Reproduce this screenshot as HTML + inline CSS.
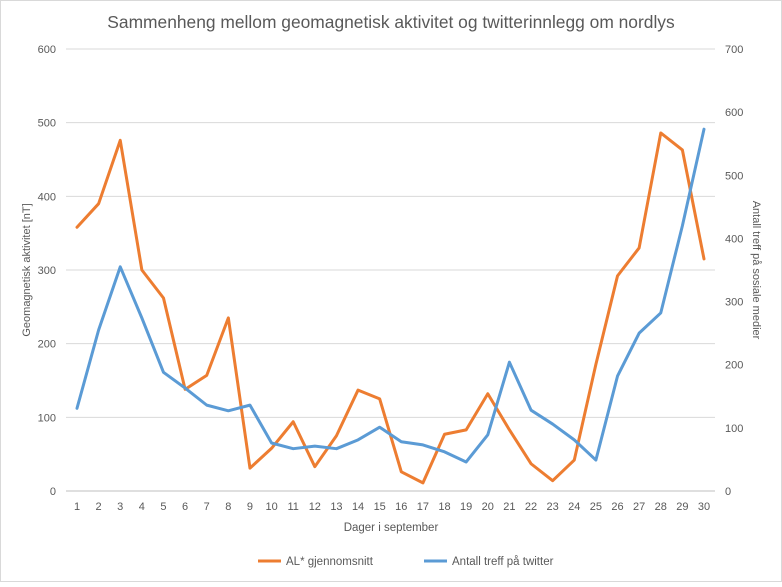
<!DOCTYPE html>
<html><head><meta charset="utf-8"><style>
body{margin:0;background:#fff;font-family:"Liberation Sans",sans-serif;}
svg text{font-family:"Liberation Sans",sans-serif;fill:#595959;}
</style></head><body>
<svg id="c" width="782" height="582" xmlns="http://www.w3.org/2000/svg">
<rect x="0.5" y="0.5" width="781" height="581" fill="#fff" stroke="#d9d9d9"/>
<text x="391" y="28" text-anchor="middle" font-size="17.4">Sammenheng mellom geomagnetisk aktivitet og twitterinnlegg om nordlys</text>
<g id="grid"></g><g id="axes"></g><g id="series"></g>
<text transform="translate(30,270) rotate(-90)" text-anchor="middle" font-size="11">Geomagnetisk aktivitet [nT]</text>
<text transform="translate(753,270) rotate(90)" text-anchor="middle" font-size="11">Antall treff på sosiale medier</text>
<text x="391" y="531" text-anchor="middle" font-size="11.5">Dager i september</text>
<g>
<line x1="258" y1="561" x2="281" y2="561" stroke="#ED7D31" stroke-width="3"/>
<text x="286" y="565" font-size="11.5">AL* gjennomsnitt</text>
<line x1="424" y1="561" x2="447" y2="561" stroke="#5B9BD5" stroke-width="3"/>
<text x="452" y="565" font-size="11.5">Antall treff på twitter</text>
</g>
</svg>
<script>
const days=[1,2,3,4,5,6,7,8,9,10,11,12,13,14,15,16,17,18,19,20,21,22,23,24,25,26,27,28,29,30];
const alValues=[358,390,476,300,262,138,157,235,31,58,94,33,75,137,125,26,11,77,83,132,83,37,14,42,172,292,330,486,463,315];
const twitterValues=[131,255,355,274,188,163,136,127,136,76,67,71,67,81,101,78,73,62,46,89,204,128,106,81,49,182,250,282,420,573];
const leftTicks=[0,100,200,300,400,500,600];
const rightTicks=[0,100,200,300,400,500,600,700];
const NS="http://www.w3.org/2000/svg";
const X0=77,X1=704,Y0=491,Y1=49,PL=66,PR=715;
const xS=d=>X0+(d-1)*(X1-X0)/29;
const yL=v=>Y0-v*(Y0-Y1)/600;
const yR=v=>Y0-v*(Y0-Y1)/700;
function mk(tag,attrs,parent){const e=document.createElementNS(NS,tag);for(const k in attrs)e.setAttribute(k,attrs[k]);document.getElementById(parent).appendChild(e);return e;}
leftTicks.forEach(t=>{
 const l=mk('line',{x1:PL,x2:PR,y1:yL(t),y2:yL(t),stroke:t===0?'#bfbfbf':'#d9d9d9','stroke-width':1},'grid');
 
 
 const tx=mk('text',{x:56,y:yL(t)+4,'text-anchor':'end','font-size':11},'axes');tx.textContent=t;
 
 
});
rightTicks.forEach(t=>{
 const tx=mk('text',{x:725,y:yR(t)+4,'font-size':11},'axes');tx.textContent=t;
 
 
});
days.forEach(d=>{
 const tx=mk('text',{x:xS(d),y:510,'text-anchor':'middle','font-size':11},'axes');tx.textContent=d;
 
 
});
const pAl=mk('polyline',{points:days.map((d,i)=>xS(d)+','+yL(alValues[i])).join(' '),fill:'none',stroke:'#ED7D31','stroke-width':3,'stroke-linejoin':'round','stroke-linecap':'round'},'series');


const pTw=mk('polyline',{points:days.map((d,i)=>xS(d)+','+yR(twitterValues[i])).join(' '),fill:'none',stroke:'#5B9BD5','stroke-width':3,'stroke-linejoin':'round','stroke-linecap':'round'},'series');


</script>
</body></html>
